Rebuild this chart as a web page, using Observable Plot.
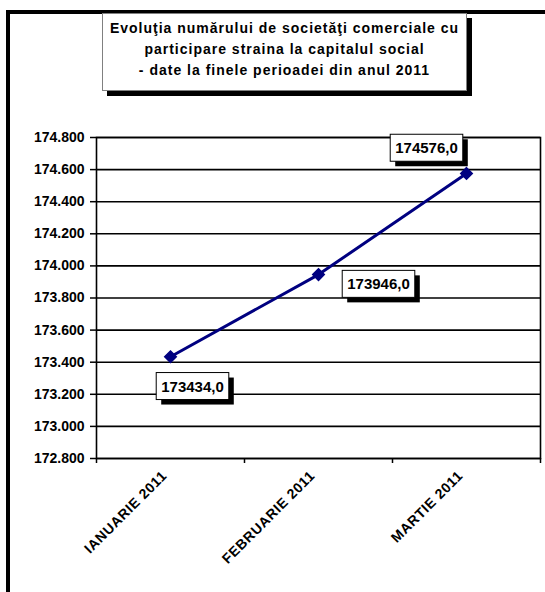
<!DOCTYPE html>
<html>
<head>
<meta charset="utf-8">
<script src="https://cdn.jsdelivr.net/npm/d3@7"></script>
<script src="https://cdn.jsdelivr.net/npm/@observablehq/plot@0.6"></script>
<style>
  html, body { margin: 0; padding: 0; background: #fff; }
  #wrap { position: relative; width: 545px; height: 592px; overflow: hidden; font-family: "Liberation Sans", Arial, sans-serif; }
  #frame { position: absolute; left: 6px; top: 10px; width: 600px; height: 700px; border-top: 4px solid #000; border-left: 4px solid #000; box-sizing: border-box; pointer-events: none; }
  #title { position: absolute; left: 102px; top: 13px; width: 363px; height: 72px; border: 1px solid #808080; background: #fff; box-shadow: 5px 5px 0 #000; text-align: center; font-weight: bold; font-size: 14px; line-height: 21px; padding-top: 4px; letter-spacing: 1px; white-space: nowrap; box-sizing: content-box; color: #000; }
  #chart { position: absolute; left: 0; top: 0; }
</style>
</head>
<body>
<div id="wrap">
  <div id="chart"></div>
  <div id="frame"></div>
  <div id="title">Evoluţia numărului de societăţi comerciale cu<br>participare straina la capitalul social<br>- date la finele perioadei din anul 2011</div>
</div>
<script>
const categories = ["IANUARIE 2011", "FEBRUARIE 2011", "MARTIE 2011"];
const values = [173434, 173946, 174576];
const yTicks = [172800, 173000, 173200, 173400, 173600, 173800, 174000, 174200, 174400, 174600, 174800];

const data = categories.map((c, i) => ({category: c, index: i + 0.5, value: values[i]}));

const ro = d3.formatLocale({decimal: ",", thousands: ".", grouping: [3], currency: ["", ""]});
const fmtTick = ro.format(",.0f");
const fmtVal = ro.format(".1f");

// label offsets (px) relative to each point: [dx, dy]
const labelOffsets = [[22, 30], [60, 10], [-40, -25]];

const font = "Liberation Sans, Arial, sans-serif";

const plot = Plot.plot({
  width: 545,
  height: 592,
  marginLeft: 96,
  marginRight: 5,
  marginTop: 137,
  marginBottom: 134,
  style: {fontFamily: font, fontSize: "14px", fontWeight: "bold", color: "#000", background: "transparent", overflow: "visible"},
  x: {domain: [0, categories.length], axis: null},
  y: {domain: [172800, 174800], axis: null},
  marks: [
    Plot.ruleY(yTicks, {stroke: "#000", strokeWidth: 1.6}),
    Plot.frame({stroke: "#000", strokeWidth: 1.6}),
    Plot.axisY({ticks: yTicks, tickFormat: fmtTick, tickSize: 6, tickPadding: 6, strokeWidth: 1.5, fontWeight: "bold", fontSize: 14, label: null}),
    Plot.axisX({ticks: d3.range(categories.length + 1), tickFormat: () => "", tickSize: 5, strokeWidth: 1.5, label: null}),
    Plot.axisX({ticks: data.map(d => d.index), tickFormat: (t) => categories[Math.floor(t)], tickSize: 0, tickPadding: 10, tickRotate: -45, dx: -6, dy: 5, fontWeight: "bold", fontSize: 14, label: null}),
    Plot.line(data, {x: "index", y: "value", stroke: "#000080", strokeWidth: 3}),
    Plot.dot(data, {x: "index", y: "value", symbol: "diamond2", r: 5.2, fill: "#000080", stroke: "#000080"}),
    ...data.map((d, i) => Plot.text([d], {
      x: "index", y: "value", text: (d) => fmtVal(d.value),
      dx: labelOffsets[i][0], dy: labelOffsets[i][1],
      textAnchor: "middle", lineAnchor: "middle",
      fontSize: 15, fontWeight: "bold", fill: "#000"
    }))
  ]
});

document.getElementById("chart").appendChild(plot);

// letter spacing on rotated category labels
plot.querySelectorAll("text").forEach((t) => {
  if (categories.includes(t.textContent)) t.setAttribute("letter-spacing", "0.6");
});

// draw boxes with shadows behind the value labels
const NS = "http://www.w3.org/2000/svg";
const labelTexts = new Set(values.map(fmtVal));
Array.from(plot.querySelectorAll("text")).filter((t) => labelTexts.has(t.textContent)).forEach((t) => {
  const bb = t.getBBox();
  const padX = 5, padY = 6, sh = 5;
  const tr = t.getAttribute("transform");
  const mk = (dx, dy, fill, stroke) => {
    const r = document.createElementNS(NS, "rect");
    r.setAttribute("x", bb.x - padX + dx);
    r.setAttribute("y", bb.y - padY + dy + 1);
    r.setAttribute("width", bb.width + 2 * padX);
    r.setAttribute("height", bb.height + 2 * padY - 2);
    r.setAttribute("fill", fill);
    if (stroke) { r.setAttribute("stroke", stroke); r.setAttribute("stroke-width", 1); }
    if (tr) r.setAttribute("transform", tr);
    t.parentNode.insertBefore(r, t);
  };
  mk(sh, sh, "#000", null);
  mk(0, 0, "#fff", "#000");
});
</script>
</body>
</html>
